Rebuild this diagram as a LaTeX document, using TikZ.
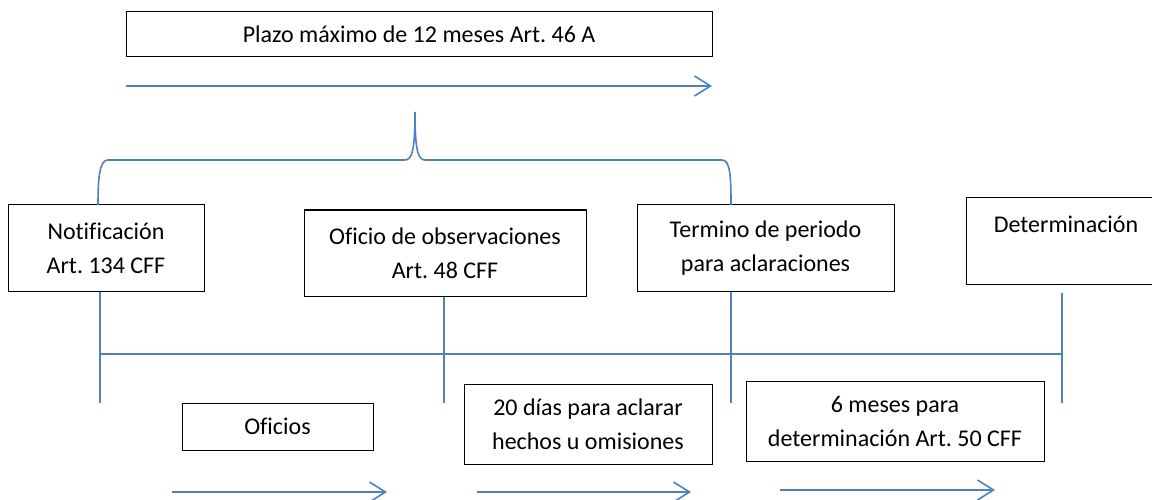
\documentclass[tikz,border=0pt]{standalone}
\usepackage{fontspec}
\setmainfont{Carlito}[Ligatures=NoCommon]
\frenchspacing
\usetikzlibrary{arrows.meta}
\definecolor{lineblue}{HTML}{4F81BD}
\tikzset{
  box/.style={draw=black, line width=1pt, inner sep=0pt, align=center,
    font=\fontsize{24}{34}\selectfont},
  conn/.style={draw=lineblue, line width=1.6pt},
  timearrow/.style={draw=lineblue, line width=1.6pt,
    -{Straight Barb[length=16pt,width=20pt,line width=1.6pt]}},
}
\begin{document}
\begin{tikzpicture}[x=1pt,y=-1pt]
\useasboundingbox (0,0) rectangle (1152,500);
% boxes
\node[box, minimum width=586pt, minimum height=45pt] (top) at (419,34.5) {Plazo máximo de 12 meses Art. 46 A};
\node[box, minimum width=196pt, minimum height=86pt] (notif) at (106,248) {Notificación\\Art. 134 CFF};
\node[box, minimum width=282pt, minimum height=86pt] (obs) at (445,253) {Oficio de observaciones\\Art. 48 CFF};
\node[box, minimum width=257pt, minimum height=86pt] (term) at (765.5,248) {Termino de periodo\\para aclaraciones};
\node[box, minimum width=200pt, minimum height=86pt] (det) at (1066,241) {Determinación\\\mbox{}};
\node[box, minimum width=191pt, minimum height=47pt] (oficios) at (277.5,426.5) {Oficios};
\node[box, minimum width=248pt, minimum height=80pt] (dias) at (588,424) {20 días para aclarar\\hechos u omisiones};
\node[box, minimum width=298pt, minimum height=80pt] (meses) at (895,421) {6 meses para\\determinación Art. 50 CFF};
% coordinates
\coordinate (a1s) at (126,86);
\coordinate (a1e) at (712,86);
\coordinate (v1) at (100,403);
\coordinate (v2) at (444,403);
\coordinate (v3) at (731,403);
\coordinate (v4) at (1062,403);
\coordinate (h1) at (100,354);
\coordinate (h2) at (1062,354);
\coordinate (b1s) at (172,492);
\coordinate (b1e) at (387,492);
\coordinate (b2s) at (477,492);
\coordinate (b2e) at (691,492);
\coordinate (b3s) at (780,490);
\coordinate (b3e) at (995,490);
\coordinate (bl) at (98,205);
\coordinate (br) at (731,205);
\coordinate (bm) at (415,112);
% top arrow
\draw[timearrow] (a1s) -- (a1e);
% brace
\draw[conn] (bl) .. controls (98,175) and (100,160) .. (108,160) -- (405,160)
  .. controls (412,160) and (415,150) .. (bm)
  .. controls (415,150) and (418,160) .. (425,160) -- (722,160)
  .. controls (730,160) and (731,175) .. (br);
% verticals
\draw[conn] (v1 |- notif.south) -- (v1);
\draw[conn] (v2 |- obs.south) -- (v2);
\draw[conn] (v3 |- term.south) -- (v3);
\draw[conn] (1062,293) -- (v4);
\draw[conn] (h1) -- (h2);
% bottom arrows
\draw[timearrow] (b1s) -- (b1e);
\draw[timearrow] (b2s) -- (b2e);
\draw[timearrow] (b3s) -- (b3e);
\end{tikzpicture}
\end{document}
